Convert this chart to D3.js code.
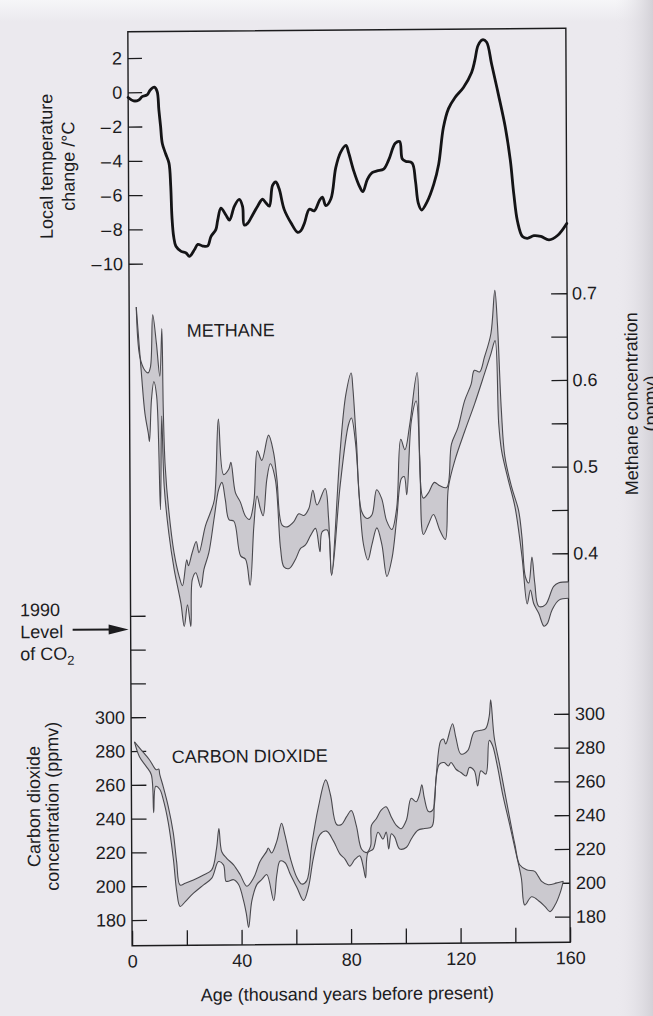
<!DOCTYPE html>
<html>
<head>
<meta charset="utf-8">
<script src="https://cdn.jsdelivr.net/npm/d3@7"></script>
<style>
  html, body { margin: 0; padding: 0; background: #ebe9ee; }
  svg { display: block; }
  text { font-family: "Liberation Sans", Arial, Helvetica, sans-serif; }
</style>
</head>
<body>
<script>
// ---- data: [age (kyr BP), value] ----
var temperature = [[0,-0.3],[2,-0.5],[3.9,-0.45],[5.1,-0.26],[6.9,-0.16],[8.1,0.13],[9.6,0.29],[10.6,0.04],[11.2,-1.04],[11.8,-2.0],[12.4,-3.0],[13.6,-3.6],[14.8,-4.15],[15.4,-5.5],[15.8,-7.3],[16.4,-8.45],[17.2,-9.0],[19.1,-9.3],[20.9,-9.4],[22.1,-9.6],[24,-9.2],[25.2,-8.9],[27,-9.0],[28.8,-9.0],[30,-8.45],[31.8,-8.05],[32.5,-7.5],[33.7,-6.8],[35.5,-7.2],[36.8,-7.5],[38.6,-6.7],[40.4,-6.3],[41.6,-6.7],[42.2,-7.8],[43.4,-7.7],[45.3,-7.2],[47.1,-6.7],[48.9,-6.3],[50.1,-6.5],[51.4,-6.7],[52.6,-5.5],[53.8,-5.3],[55,-5.7],[56.8,-6.9],[59.3,-7.7],[61.7,-8.25],[62.9,-8.15],[64.2,-7.7],[66,-6.9],[67.8,-7.0],[69.7,-6.4],[70.8,-6.2],[72,-6.7],[73.9,-6.3],[75.7,-4.5],[77.5,-3.6],[79.5,-3.2],[80.4,-3.6],[82.3,-4.7],[84.1,-5.5],[85.6,-5.9],[87.2,-5.2],[89,-4.8],[90.8,-4.7],[93.2,-4.6],[95.1,-4.05],[97.5,-3.1],[99.1,-3.0],[100,-4.0],[101.2,-4.15],[103.6,-4.25],[104.8,-5.3],[105.8,-6.6],[107,-7.0],[109.1,-6.5],[111.5,-5.5],[113.3,-4.35],[115.1,-2.2],[117,-1.1],[119.4,-0.45],[122.5,0.13],[125.5,1.0],[126.7,1.7],[127.9,2.57],[129.5,2.9],[131,2.77],[132.8,1.5],[135.2,-0.26],[137.7,-2.2],[139.5,-4.15],[140.7,-6.1],[142,-7.7],[143.8,-8.6],[145.6,-8.7],[148,-8.55],[150.5,-8.6],[153.5,-8.8],[156.6,-8.55],[160,-7.85]];

var methaneUpper = [[2.6,0.688],[3.8,0.631],[5.6,0.615],[6.8,0.612],[7.7,0.619],[8.6,0.679],[9.9,0.646],[11.1,0.608],[11.9,0.663],[12.3,0.569],[12.9,0.504],[14.1,0.454],[16,0.404],[17.8,0.377],[19,0.366],[20.6,0.396],[21.2,0.389],[22.6,0.404],[24.1,0.417],[25.1,0.404],[27.5,0.435],[29.3,0.45],[30.8,0.465],[32.4,0.558],[34.2,0.494],[36.1,0.5],[36.9,0.508],[38.5,0.473],[40.3,0.462],[42.1,0.446],[43.6,0.442],[45.2,0.462],[46.6,0.521],[48.2,0.51],[50.7,0.539],[52.5,0.519],[53.7,0.488],[55.5,0.435],[57.4,0.433],[59.8,0.439],[61.6,0.448],[63.5,0.446],[65.3,0.454],[66.8,0.475],[68.3,0.458],[71.3,0.477],[72.5,0.442],[73.5,0.377],[76.8,0.519],[79,0.585],[81,0.61],[81.6,0.592],[82.8,0.531],[84.6,0.45],[86.5,0.442],[88.3,0.446],[90.1,0.475],[91.9,0.465],[93.7,0.439],[95.6,0.429],[97.4,0.454],[99,0.533],[100.5,0.521],[102.3,0.55],[105.1,0.61],[107.1,0.465],[109,0.471],[111.2,0.483],[113.2,0.479],[115.7,0.477],[117.5,0.527],[119.9,0.546],[122.4,0.577],[124.8,0.596],[126,0.612],[127.9,0.61],[129.7,0.627],[132.1,0.654],[133.6,0.704],[134.5,0.665],[135.8,0.565],[137,0.512],[139.4,0.477],[141.9,0.45],[143.1,0.419],[144.3,0.373],[145.5,0.366],[146.7,0.396],[147.7,0.366],[149.1,0.339],[151.6,0.341],[154.6,0.362],[156.5,0.366],[160,0.367]];

var methaneLower = [[2.6,0.688],[4.4,0.61],[5.6,0.565],[6.8,0.542],[7.2,0.533],[8,0.581],[8.9,0.602],[9.9,0.585],[11.1,0.454],[11.7,0.562],[12.5,0.481],[14.1,0.427],[16,0.385],[18.4,0.346],[19.6,0.319],[20.8,0.344],[22,0.319],[22.6,0.373],[23.9,0.381],[25.7,0.364],[26.9,0.385],[28.7,0.404],[30.8,0.446],[32.4,0.477],[33.6,0.485],[34.8,0.465],[36.1,0.442],[37.9,0.44],[40.3,0.4],[42.1,0.396],[43.7,0.366],[45.2,0.435],[46.4,0.469],[47.6,0.454],[48.6,0.446],[50,0.488],[51.3,0.506],[53.1,0.488],[54.9,0.408],[56.1,0.387],[58,0.385],[60.4,0.396],[62.2,0.408],[64,0.412],[65.9,0.423],[67.7,0.431],[69.3,0.404],[70.1,0.427],[72,0.429],[73.5,0.377],[76.8,0.481],[79.9,0.55],[81,0.558],[82.4,0.531],[84,0.454],[85.2,0.412],[86.8,0.394],[88.3,0.412],[90.1,0.431],[91.9,0.412],[93.7,0.375],[95.6,0.396],[97.4,0.442],[99.2,0.488],[100.2,0.49],[101.1,0.469],[102.9,0.554],[104.7,0.577],[105.9,0.512],[107.1,0.423],[109,0.435],[110.8,0.446],[113.2,0.427],[115.1,0.417],[116.3,0.477],[118.7,0.508],[122.4,0.542],[126,0.573],[129.7,0.608],[132.1,0.631],[133.6,0.646],[134.8,0.55],[135.8,0.519],[138.2,0.485],[140.6,0.454],[143.1,0.396],[144.9,0.342],[146.1,0.358],[147.3,0.342],[149.1,0.331],[151,0.316],[152.2,0.319],[154,0.335],[156.5,0.346],[160,0.348]];

var co2Upper = [[1.2,285.4],[3.7,280.5],[6.7,274.6],[9.1,268.8],[10,269.2],[10.4,265.9],[11.6,259],[13.4,247.3],[15.2,231.7],[16.4,214.2],[17.6,200.5],[19.5,201.5],[22.5,203.4],[26.2,206.3],[29.2,209.3],[31,222],[31.9,233.7],[32.9,220],[34.7,216.1],[37.2,212.2],[39.6,206.3],[42,199.5],[44.5,204.4],[46.9,214.2],[49.3,220],[49.9,222],[51.1,219],[53,225.9],[54.8,236.6],[56,229.7],[57.9,216.1],[60.3,204.4],[62.1,200.5],[63.9,202.5],[65.8,223.9],[68.2,245.4],[71,262],[72.7,253.2],[74.9,235.6],[76.7,235.6],[78.5,240],[80.3,243.8],[82.1,234.8],[84,220.8],[85.8,218.8],[87.3,222.8],[87.6,234.8],[89.4,238.8],[91.2,243.8],[93,245.8],[94.9,239.8],[96.7,234.8],[98.5,232.8],[100.4,237.8],[102.2,250.7],[104,248.7],[105.2,252.8],[106.1,258.7],[107,250.7],[108.5,242.8],[110.1,243.8],[111.3,262.7],[113.1,284.6],[114.1,285.6],[114.9,282.7],[117.4,294.6],[118.6,286.6],[120.4,276.7],[122.9,278.6],[125.3,289.6],[127.7,290.6],[129.5,291.6],[130.8,298.6],[131.4,308.6],[132.6,286.6],[134.5,270.7],[136.3,254.7],[138.1,238.8],[140,222.8],[141.7,210.9],[144.2,207.9],[147.2,206.9],[148.5,203.9],[149.7,200.9],[152.1,198.9],[155.2,199.9],[157.6,200.9]];

var co2Lower = [[1.2,285.4],[3,276.6],[5.5,270.7],[7.3,265.9],[8.1,243.4],[8.9,259],[10.4,257.1],[11.6,251.2],[13.4,237.6],[15.2,216.1],[16.4,196.6],[17.6,187.8],[19.5,190.7],[22.5,195.6],[26.2,200.5],[29.2,204.4],[31.7,214.2],[33.5,212.2],[34.4,202.5],[35.3,202.5],[37.2,203.4],[39,200.5],[40.8,190.8],[41.8,183],[42.6,175.1],[43.8,190.8],[45.7,200.5],[47.5,203.4],[49.3,206.3],[51.8,190.8],[53,206.3],[54.2,214.2],[56,213.2],[57.9,206.3],[60.3,198.5],[62.7,190.8],[64.5,198.5],[66.4,216.1],[68.8,229.7],[71.2,231.7],[73.7,225.9],[76.1,218],[77.9,215.1],[79.6,210.9],[81.5,214.8],[83.3,216.9],[84.5,210.9],[85.4,203.9],[86.3,218.8],[88.2,220.8],[90,230.8],[91.8,226.8],[93,230.8],[93.9,220.8],[94.9,229.8],[96.1,227.8],[97.9,220.8],[100.4,221.8],[102.2,226.8],[104.6,231.8],[107,232.8],[109.7,233.8],[110.7,250.7],[112.5,270.7],[114.3,271.7],[115.8,269.7],[116.8,271.7],[118.6,267.7],[120.4,265.7],[122.3,263.7],[123.5,268.7],[125.3,266.7],[126.5,257.7],[127.7,266.7],[129.5,264.7],[130.8,284.6],[132,281.6],[133.8,268.7],[135.6,252.8],[138.1,234.8],[140.5,216.9],[142.3,202.9],[143.5,187],[146,191.9],[149,188.9],[150.9,186],[152.7,183],[154.6,187],[156.4,193.9],[157.6,200.9]];

var co2Level1990 = 352;

// ---- ticks and labels ----
var ageTicks = [0, 20, 40, 60, 80, 100, 120, 140, 160];
var ageLabels = ['0', '', '40', '', '80', '', '120', '', '160'];
var tempTicks = [-10, -8, -6, -4, -2, 0, 2];
var tempLabels = ['\u2013\u200a10', '\u2013\u200a8', '\u2013\u200a6', '\u2013\u200a4', '\u2013\u200a2', '0', '2'];
var ch4Ticks = [0.4, 0.45, 0.5, 0.55, 0.6, 0.65, 0.7];
var ch4Labels = ['0.4', '', '0.5', '', '0.6', '', '0.7'];
var co2LeftTicks = [180, 200, 220, 240, 260, 280, 300, 320, 340, 360];
var co2LeftLabels = ['180', '200', '220', '240', '260', '280', '300', '', '', ''];
var co2RightTicks = [180, 200, 220, 240, 260, 280, 300];
var co2RightLabels = ['180', '200', '220', '240', '260', '280', '300'];

var W = 653, H = 1016;
var ink = '#1c1c1e';
var fontSize = 18;

var svg = d3.select('body').append('svg')
  .attr('width', W)
  .attr('height', H);

// paper tone, gutter shadow on the right
var defs = svg.append('defs');
var gut = defs.append('linearGradient').attr('id', 'gutter');
gut.append('stop').attr('offset', '0').attr('stop-color', '#ebe9ee').attr('stop-opacity', 0);
gut.append('stop').attr('offset', '1').attr('stop-color', '#d3d1d7').attr('stop-opacity', 1);
var topg = defs.append('linearGradient').attr('id', 'topfade')
  .attr('x1', 0).attr('y1', 0).attr('x2', 0).attr('y2', 1);
topg.append('stop').attr('offset', '0').attr('stop-color', '#f6f6f8');
topg.append('stop').attr('offset', '1').attr('stop-color', '#ebe9ee');

svg.append('rect').attr('width', W).attr('height', H).attr('fill', '#ebe9ee');
svg.append('rect').attr('width', W).attr('height', 22).attr('fill', 'url(#topfade)');
svg.append('rect').attr('x', 615).attr('width', W - 615).attr('height', H).attr('fill', 'url(#gutter)');

// the scan is slightly skewed
var g = svg.append('g')
  .attr('transform', 'translate(349,490) matrix(1,-0.008,0.0047,1,0,0) translate(-349,-490)');

var x = d3.scaleLinear().domain([0, 160]).range([130, 568]);
var yT = d3.scaleLinear().domain([-10, 2]).range([262, 56.3]);
var yM = d3.scaleLinear().domain([0.4, 0.7]).range([555, 295]);
var yC = d3.scaleLinear().domain([180, 300]).range([918.3, 715.5]);

var frameTop = 30, frameBottom = 944;

function styleAxis(sel) {
  sel.select('.domain').remove();
  sel.attr('font-size', fontSize)
    .attr('font-family', '"Liberation Sans", Arial, Helvetica, sans-serif');
  sel.selectAll('.tick line').attr('stroke', ink).attr('stroke-width', 1.3);
  sel.selectAll('.tick text').attr('fill', ink);
}

// temperature axis (left)
g.append('g')
  .attr('transform', 'translate(' + x(0) + ',0)')
  .call(d3.axisLeft(yT).tickValues(tempTicks).tickSize(-14).tickPadding(6)
    .tickFormat(function(d, i) { return tempLabels[i]; }))
  .call(styleAxis);

// methane axis (right)
g.append('g')
  .attr('transform', 'translate(' + x(160) + ',0)')
  .call(d3.axisRight(yM).tickValues(ch4Ticks).tickSize(-16).tickPadding(5)
    .tickFormat(function(d, i) { return ch4Labels[i]; }))
  .call(styleAxis);

// CO2 axes
g.append('g')
  .attr('transform', 'translate(' + x(0) + ',0)')
  .call(d3.axisLeft(yC).tickValues(co2LeftTicks).tickSize(-15).tickPadding(6)
    .tickFormat(function(d, i) { return co2LeftLabels[i]; }))
  .call(styleAxis);

g.append('g')
  .attr('transform', 'translate(' + x(160) + ',0)')
  .call(d3.axisRight(yC).tickValues(co2RightTicks).tickSize(-15).tickPadding(6)
    .tickFormat(function(d, i) { return co2RightLabels[i]; }))
  .call(styleAxis);

// age axis
g.append('g')
  .attr('transform', 'translate(0,' + frameBottom + ')')
  .call(d3.axisBottom(x).tickValues(ageTicks).tickSize(-15).tickPadding(9)
    .tickFormat(function(d, i) { return ageLabels[i]; }))
  .call(styleAxis);

// frame
g.append('rect')
  .attr('x', x(0))
  .attr('y', frameTop)
  .attr('width', x(160) - x(0))
  .attr('height', frameBottom - frameTop)
  .attr('fill', 'none')
  .attr('stroke', ink)
  .attr('stroke-width', 1.4);

// shaded bands (methane, CO2)
function band(upper, lower, yScale) {
  var line = d3.line()
    .x(function(d) { return x(d[0]); })
    .y(function(d) { return yScale(d[1]); })
    .curve(d3.curveCatmullRom.alpha(0.5));
  var up = line(upper);
  var lo = line(lower.slice().reverse());
  g.append('path')
    .attr('d', up + 'L' + lo.slice(1) + 'Z')
    .attr('fill', '#cbc9cf');
  [upper, lower].forEach(function(s) {
    g.append('path')
      .attr('d', line(s))
      .attr('fill', 'none')
      .attr('stroke', '#4a494e')
      .attr('stroke-width', 1.1)
      .attr('stroke-linejoin', 'round');
  });
}

band(methaneUpper, methaneLower, yM);
band(co2Upper, co2Lower, yC);

// temperature curve
g.append('path')
  .datum(temperature)
  .attr('d', d3.line()
    .x(function(d) { return x(d[0]); })
    .y(function(d) { return yT(d[1]); })
    .curve(d3.curveCatmullRom.alpha(0.5)))
  .attr('fill', 'none')
  .attr('stroke', '#141416')
  .attr('stroke-width', 2.8)
  .attr('stroke-linejoin', 'round')
  .attr('stroke-linecap', 'round');

// labels
function label(txt, px, py, rot, anchor) {
  var t = g.append('text')
    .attr('transform', 'translate(' + px + ',' + py + ')' + (rot ? ' rotate(' + rot + ')' : ''))
    .attr('text-anchor', anchor || 'start')
    .attr('font-size', fontSize)
    .attr('fill', ink)
    .text(txt);
  return t;
}

label('Local temperature', 54, 164, -90, 'middle');
label('change /\u00b0C', 76, 164, -90, 'middle');
label('Carbon dioxide', 38.5, 804, -90, 'middle');
label('concentration (ppmv)', 57, 804, -90, 'middle');
label('Methane concentration', 638, 406, -90, 'middle');
label('(ppmv)', 657, 406, -90, 'middle');
label('METHANE', 187.5, 335.5);
label('CARBON DIOXIDE', 170.5, 761.5);
label('Age (thousand years before present)', 345, 1000, 0, 'middle');

// 1990 CO2 level marker
var yArrow = yC(co2Level1990);
label('1990', 19.5, 613.5);
label('Level', 19.5, 635.5);
var of = label('of CO', 19.5, 657.5);
of.append('tspan').attr('dy', 5).attr('font-size', 13).text('2');

g.append('line')
  .attr('x1', 72).attr('x2', 112)
  .attr('y1', yArrow).attr('y2', yArrow)
  .attr('stroke', ink)
  .attr('stroke-width', 2);
g.append('path')
  .attr('d', 'M108,' + (yArrow - 5) + 'L128,' + yArrow + 'L108,' + (yArrow + 5) + 'Z')
  .attr('fill', ink);
</script>
</body>
</html>
